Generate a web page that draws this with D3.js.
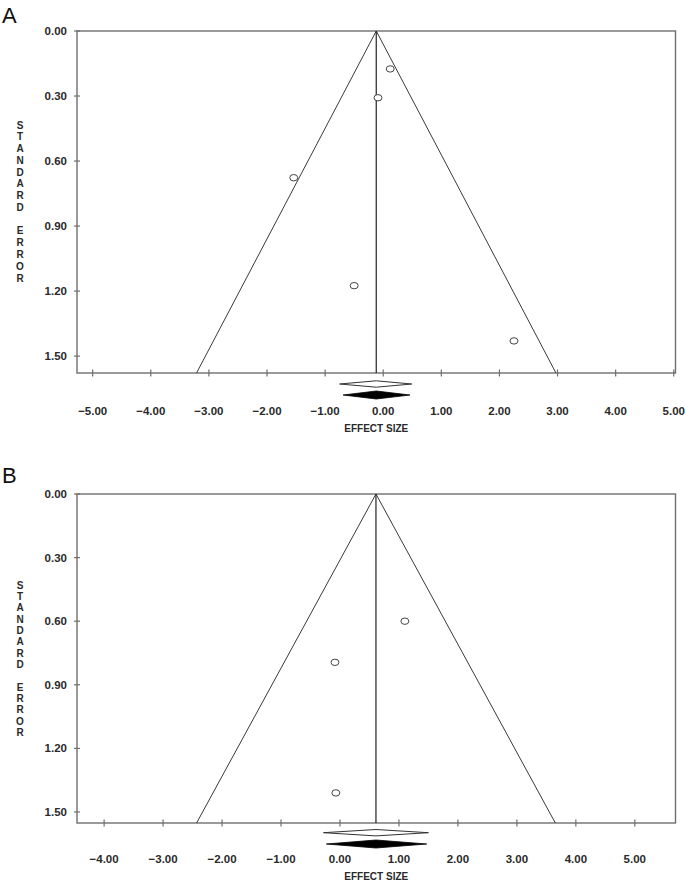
<!DOCTYPE html>
<html>
<head>
<meta charset="utf-8">
<script src="https://cdn.jsdelivr.net/npm/d3@7"></script>
<style>
  body { margin: 0; background: #fff; }
  svg { display: block; }
</style>
</head>
<body>
<svg id="chart" width="685" height="881"></svg>
<script>
// ---------- DATA ----------
const panelLabels = ["A", "B"];
// Panel A studies
const effectA = [0.12, -0.09, -1.54, -0.50, 2.25];
const seA = [0.175, 0.308, 0.677, 1.175, 1.43];
const pooledA = -0.12;
const observedCIA = [-0.75, 0.49];
const imputedA = -0.12;
const imputedCIA = [-0.69, 0.46];
const xTicksA = [-5, -4, -3, -2, -1, 0, 1, 2, 3, 4, 5];
const xDomainA = [-5.27, 5.03];
const seMaxA = 1.578;
// Panel B studies
const effectB = [1.10, -0.085, -0.07];
const seB = [0.60, 0.794, 1.41];
const pooledB = 0.61;
const observedCIB = [-0.28, 1.50];
const imputedB = 0.61;
const imputedCIB = [-0.23, 1.47];
const xTicksB = [-4, -3, -2, -1, 0, 1, 2, 3, 4, 5];
const xDomainB = [-4.46, 5.69];
const seMaxB = 1.552;
// shared
const yTicks = [0, 0.3, 0.6, 0.9, 1.2, 1.5];
const xTitle = "EFFECT SIZE";
const yTitle = "STANDARD ERROR";

// ---------- DRAW ----------
const svg = d3.select("#chart");
const fontTick = "'Liberation Sans', Arial, sans-serif";

function drawPanel(cfg) {
  const g = svg.append("g");
  const x = d3.scaleLinear().domain(cfg.xDomain).range([77, 675.5]);
  const y = d3.scaleLinear().domain([0, cfg.seMax]).range([cfg.top, cfg.bottom]);
  const frameColor = "#6f6f6f";

  // panel label
  g.append("text").attr("x", 2).attr("y", cfg.labelY)
    .attr("font-family", "'Liberation Sans', Arial, sans-serif")
    .attr("font-size", 22).attr("fill", "#111").text(cfg.label);

  // frame
  g.append("rect").attr("x", x.range()[0]).attr("y", cfg.top)
    .attr("width", x.range()[1] - x.range()[0]).attr("height", cfg.bottom - cfg.top)
    .attr("fill", "none").attr("stroke", frameColor).attr("stroke-width", 1.4);

  // y ticks
  g.selectAll(".yt").data(yTicks).join("line")
    .attr("x1", 74).attr("x2", 80)
    .attr("y1", d => y(d)).attr("y2", d => y(d))
    .attr("stroke", frameColor).attr("stroke-width", 1.2);
  g.selectAll(".yl").data(yTicks).join("text")
    .attr("x", 67).attr("y", d => y(d)).attr("dy", "0.35em")
    .attr("text-anchor", "end")
    .attr("font-family", fontTick).attr("font-weight", "bold")
    .attr("font-size", 11.5).attr("fill", "#2a2a2a")
    .text(d => d3.format(".2f")(d));

  // x ticks
  g.selectAll(".xt").data(cfg.xTicks).join("line")
    .attr("x1", d => x(d)).attr("x2", d => x(d))
    .attr("y1", cfg.bottom - 3.5).attr("y2", cfg.bottom + 3.5)
    .attr("stroke", frameColor).attr("stroke-width", 1.2);
  g.selectAll(".xl").data(cfg.xTicks).join("text")
    .attr("x", d => x(d)).attr("y", cfg.bottom + cfg.tickLabelOffset).attr("dy", "0.35em")
    .attr("text-anchor", "middle")
    .attr("font-family", fontTick).attr("font-weight", "bold")
    .attr("font-size", 11.5).attr("fill", "#2a2a2a")
    .text(d => d3.format(".2f")(d));

  // x title
  const midX = (x.range()[0] + x.range()[1]) / 2;
  g.append("text").attr("x", midX).attr("y", cfg.bottom + cfg.titleOffset).attr("dy", "0.35em")
    .attr("text-anchor", "middle")
    .attr("font-family", fontTick).attr("font-weight", "bold")
    .attr("font-size", 10).attr("fill", "#2a2a2a").text(xTitle);

  // y title stacked letters
  const letters = yTitle.split("");
  g.selectAll(".ylt").data(letters).join("text")
    .attr("x", 20).attr("y", (d, i) => cfg.yTitleStart + i * cfg.yTitleStep).attr("dy", "0.35em")
    .attr("text-anchor", "middle")
    .attr("font-family", fontTick).attr("font-weight", "bold")
    .attr("font-size", 10).attr("fill", "#2a2a2a").text(d => d);

  // funnel
  const lineColor = "#3a3a3a";
  const smax = cfg.seMax;
  g.append("path")
    .attr("d", d3.line()([
      [x(cfg.pooled - 1.96 * smax), y(smax)],
      [x(cfg.pooled), y(0)],
      [x(cfg.pooled + 1.96 * smax), y(smax)]
    ]))
    .attr("fill", "none").attr("stroke", lineColor).attr("stroke-width", 1);
  g.append("line")
    .attr("x1", x(cfg.pooled)).attr("x2", x(cfg.pooled))
    .attr("y1", y(0)).attr("y2", y(smax))
    .attr("stroke", "#222").attr("stroke-width", 1.2);

  // points
  const pts = cfg.effects.map((e, i) => ({ e, s: cfg.se[i] }));
  g.selectAll(".pt").data(pts).join("ellipse")
    .attr("cx", d => x(d.e)).attr("cy", d => y(d.s))
    .attr("rx", 4).attr("ry", 3.2)
    .attr("fill", "#fff").attr("stroke", "#444").attr("stroke-width", 1);

  // diamonds
  function diamond(c, ci, cy, h) {
    return d3.line()([
      [x(ci[0]), cy], [x(c), cy - h], [x(ci[1]), cy], [x(c), cy + h], [x(ci[0]), cy]
    ]);
  }
  g.append("path").attr("d", diamond(cfg.pooled, cfg.obsCI, cfg.bottom + cfg.diamond1, 3.2))
    .attr("fill", "#fff").attr("stroke", "#333").attr("stroke-width", 1);
  g.append("path").attr("d", diamond(cfg.imputed, cfg.impCI, cfg.bottom + cfg.diamond2, 4))
    .attr("fill", "#000").attr("stroke", "#000").attr("stroke-width", 0.8);
}

drawPanel({
  label: panelLabels[0], labelY: 23, top: 31, bottom: 373,
  xDomain: xDomainA, seMax: seMaxA, xTicks: xTicksA,
  effects: effectA, se: seA, pooled: pooledA, obsCI: observedCIA,
  imputed: imputedA, impCI: imputedCIA,
  tickLabelOffset: 37.5, titleOffset: 55, diamond1: 11, diamond2: 22,
  yTitleStart: 125, yTitleStep: 11.77
});
drawPanel({
  label: panelLabels[1], labelY: 483, top: 494, bottom: 823,
  xDomain: xDomainB, seMax: seMaxB, xTicks: xTicksB,
  effects: effectB, se: seB, pooled: pooledB, obsCI: observedCIB,
  imputed: imputedB, impCI: imputedCIB,
  tickLabelOffset: 36, titleOffset: 53, diamond1: 9.7, diamond2: 21,
  yTitleStart: 585, yTitleStep: 11.36
});
</script>
</body>
</html>
